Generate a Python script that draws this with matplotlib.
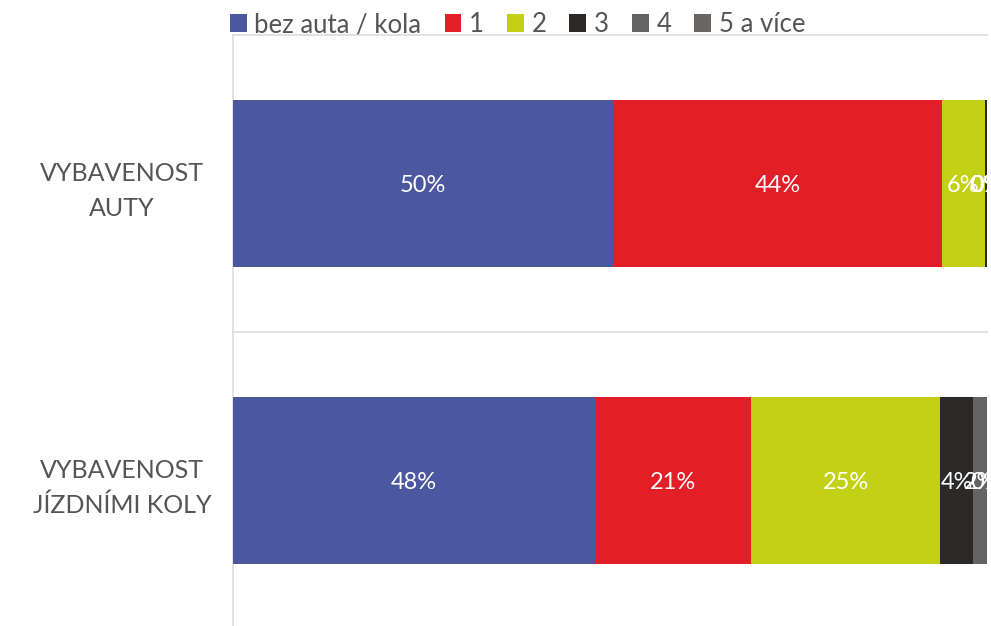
import matplotlib.pyplot as plt
import numpy as np

# categories (top to bottom) and series
categories = ["VYBAVENOST\nAUTY", "VYBAVENOST\nJÍZDNÍMI KOLY"]
series_names = ["bez auta / kola", "1", "2", "3", "4", "5 a více"]
auta = [50.4, 43.6, 5.7, 0.3, 0.0, 0.0]
kola = [48.0, 20.7, 25.1, 4.4, 1.8, 0.0]
colors = ["#4B579E", "#E21F26", "#C3D116", "#2B2A29", "#646464", "#6A6565"]

plt.rcParams["font.family"] = ["Lato", "DejaVu Sans"]

fig = plt.figure(figsize=(9.91, 6.26), dpi=100)
ax = fig.add_axes([233 / 991, 1 - 629 / 626, 754 / 991, 594 / 626])

data = np.array([auta, kola])
y = np.arange(len(categories))
left = np.zeros(len(categories))
for i, name in enumerate(series_names):
    vals = data[:, i]
    ax.barh(y, vals, left=left, height=0.56, color=colors[i], label=name,
            zorder=3)
    for j, v in enumerate(vals):
        ax.text(left[j] + v / 2, y[j], f"{round(v):.0f}%", ha="center",
                va="center_baseline", color="white", fontsize=17, zorder=4,
                clip_on=False)
    left += vals

ax.set_xlim(0, 100)
ax.set_ylim(1.5, -0.5)

# category band lines
for b in [-0.5, 0.5, 1.5]:
    ax.axhline(b, color="#DDDDDD", lw=1.2, zorder=1, clip_on=False)

for s in ["top", "right", "bottom"]:
    ax.spines[s].set_visible(False)
ax.spines["left"].set_color("#DDDDDD")
ax.spines["left"].set_linewidth(1.2)

ax.set_xticks([])
ax.set_yticks(y)
ax.set_yticklabels(categories, fontsize=18, color="#555555",
                   linespacing=1.6, ha="center")
ax.tick_params(axis="y", length=0, pad=80)

leg = fig.legend(loc="upper left", bbox_to_anchor=(230 / 991, 1 - 12 / 626),
                 ncol=6, frameon=False, fontsize=18.5, handlelength=0.65,
                 handleheight=0.65, handletextpad=0.3, columnspacing=0.9,
                 borderaxespad=0, borderpad=0)
for t in leg.get_texts():
    t.set_color("#555555")

fig.savefig("out.png", dpi=100)
